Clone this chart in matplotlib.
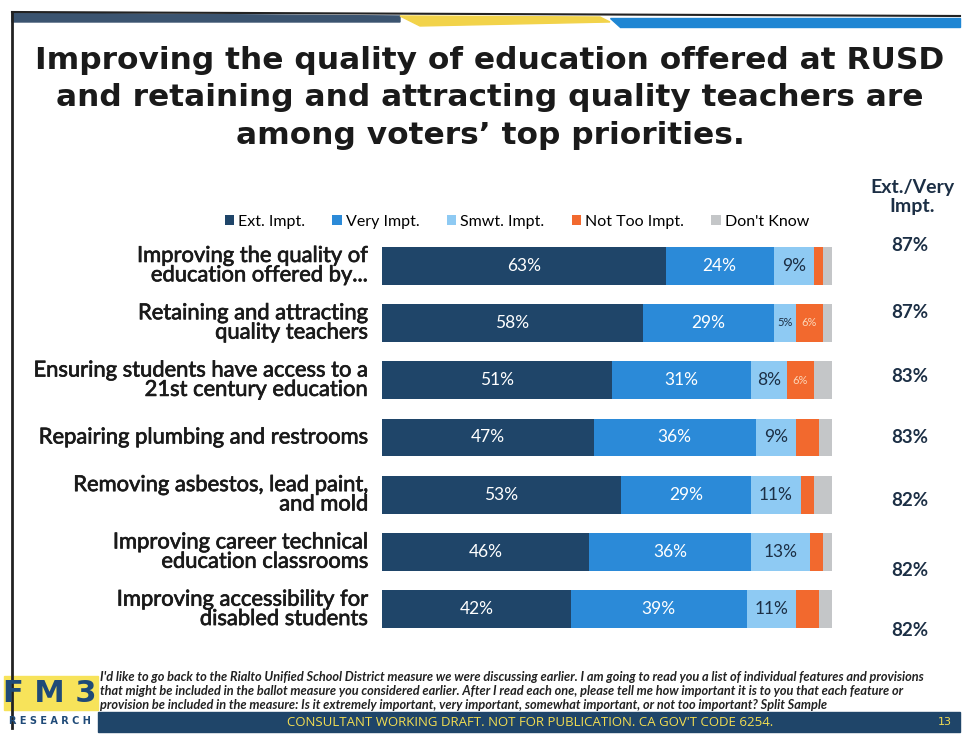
import matplotlib.pyplot as plt
import matplotlib.patheffects as pe
import numpy as np

# survey items (top to bottom)
items = ["Improving the quality of\neducation offered by...",
         "Retaining and attracting\nquality teachers",
         "Ensuring students have access to a\n21st century education",
         "Repairing plumbing and restrooms",
         "Removing asbestos, lead paint,\nand mold",
         "Improving career technical\neducation classrooms",
         "Improving accessibility for\ndisabled students"]
ext_impt = [63, 58, 51, 47, 53, 46, 42]
very_impt = [24, 29, 31, 36, 29, 36, 39]
smwt_impt = [9, 5, 8, 9, 11, 13, 11]
not_too = [2, 6, 6, 5, 3, 3, 5]
dont_know = [2, 2, 4, 3, 4, 2, 3]
ext_very = ["87%", "87%", "83%", "83%", "82%", "82%", "82%"]
show_orange = [False, True, True, False, False, False, False]

series = [("Ext. Impt.", ext_impt, "#1f4569", "white"),
          ("Very Impt.", very_impt, "#2b8ad8", "white"),
          ("Smwt. Impt.", smwt_impt, "#8ecaf3", "#1c2f45"),
          ("Not Too Impt.", not_too, "#f2692e", "#fbd6b8"),
          ("Don't Know", dont_know, "#c4c6c8", "#333333")]

W, H = 965, 740
fig = plt.figure(figsize=(W / 100, H / 100), dpi=100)
fig.patch.set_facecolor("white")

def px(x, y):
    return x / W, 1 - y / H

# slide frame and top stripes
frame = fig.add_axes([0, 0, 1, 1], zorder=-5)
frame.set_xlim(0, W)
frame.set_ylim(H, 0)
frame.axis("off")
frame.plot([12, 12], [12, 728], color="#222222", lw=2)
frame.plot([12, 960], [12, 16], color="#222222", lw=1.5)
frame.fill([12, 400, 400, 12], [13, 16, 22, 22], color="#3b5470")
frame.fill([400, 600, 610, 420], [16, 17, 22, 26], color="#f2d34a")
frame.fill([610, 960, 960, 620], [18, 18, 27, 27], color="#1f86d3")

# footer
frame.fill([4, 98, 98, 4], [676, 676, 710, 710], color="#f7e35a")
frame.text(50, 693, "F M 3", fontsize=22, fontweight="bold", color="#1f4a78",
           ha="center", va="center", family="DejaVu Sans")
frame.text(50, 721, "R E S E A R C H", fontsize=7, fontweight="bold", color="#1f4a78",
           ha="center", va="center", family="DejaVu Sans")
frame.fill([98, 960, 960, 98], [712, 712, 732, 732], color="#1f4569")
frame.text(530, 722, "CONSULTANT WORKING DRAFT. NOT FOR PUBLICATION. CA GOV'T CODE 6254.",
           fontsize=9.5, color="#f4de52", ha="center", va="center", family="Open Sans")
frame.text(945, 722, "13", fontsize=8, color="#f4de52", ha="center", va="center")
note = ("I'd like to go back to the Rialto Unified School District measure we were discussing earlier. "
        "I am going to read you a list of individual features and provisions\n"
        "that might be included in the ballot measure you considered earlier. After I read each one, "
        "please tell me how important it is to you that each feature or\n"
        "provision be included in the measure: Is it extremely important, very important, "
        "somewhat important, or not too important? Split Sample")
frame.text(100, 691, note, fontsize=9.2, style="italic", fontweight="bold",
           color="#222222", ha="left", va="center", family="Lato", linespacing=1.2)

# title
fig.text(*px(490, 98), "Improving the quality of education offered at RUSD\n"
         "and retaining and attracting quality teachers are\n"
         "among voters\u2019 top priorities.",
         ha="center", va="center", fontsize=22.5, fontweight="bold",
         family="DejaVu Sans", color="#1a1a1a", linespacing=1.35)

# bars
top, bottom = 237, 638
ax = fig.add_axes([382 / W, 1 - bottom / H, 450 / W, (bottom - top) / H])
y = np.arange(len(items))
left = np.zeros(len(items))
handles = []
for k, (name, vals, col, tcol) in enumerate(series):
    vals = np.array(vals)
    b = ax.barh(y, vals, left=left, height=0.66, color=col, label=name)
    handles.append(b)
    for i, v in enumerate(vals):
        cx = left[i] + v / 2
        if k < 3:
            fs = 12.5 if v >= 8 else 8
            ax.text(cx, i, f"{v}%", ha="center", va="center", color=tcol,
                    fontsize=fs, family="Lato")
        elif k == 3 and show_orange[i]:
            ax.text(cx, i, f"{v}%", ha="center", va="center", color=tcol,
                    fontsize=8, family="Lato")
    left += vals
ax.set_xlim(0, 100)
ax.set_ylim(len(items) - 0.5, -0.5)
ax.axis("off")

thick = [pe.withStroke(linewidth=0.5, foreground="#1a1a1a")]
for i, lab in enumerate(items):
    ax.text(-3, i, lab, ha="right", va="center", fontsize=15.8, family="Lato",
            color="#1a1a1a", linespacing=0.96, path_effects=thick)

# right column
fig.text(*px(912, 197), "Ext./Very\nImpt.", ha="center", va="center", fontsize=14,
         fontweight="bold", family="Lato", color="#1c2f45", linespacing=1.1)
right_y = [245, 312, 376, 438, 500, 570, 630]
for yy, t in zip(right_y, ext_very):
    fig.text(*px(910, yy), t, ha="center", va="center", fontsize=13.5,
             fontweight="bold", family="Lato", color="#1c2f45")

fig.legend(handles=handles, loc="center", bbox_to_anchor=px(517, 222), ncol=5,
           frameon=False, handlelength=0.6, handleheight=0.6,
           handletextpad=0.25, columnspacing=1.7,
           prop={"family": "Lato", "size": 11.5})

fig.savefig("out.png", dpi=100)
